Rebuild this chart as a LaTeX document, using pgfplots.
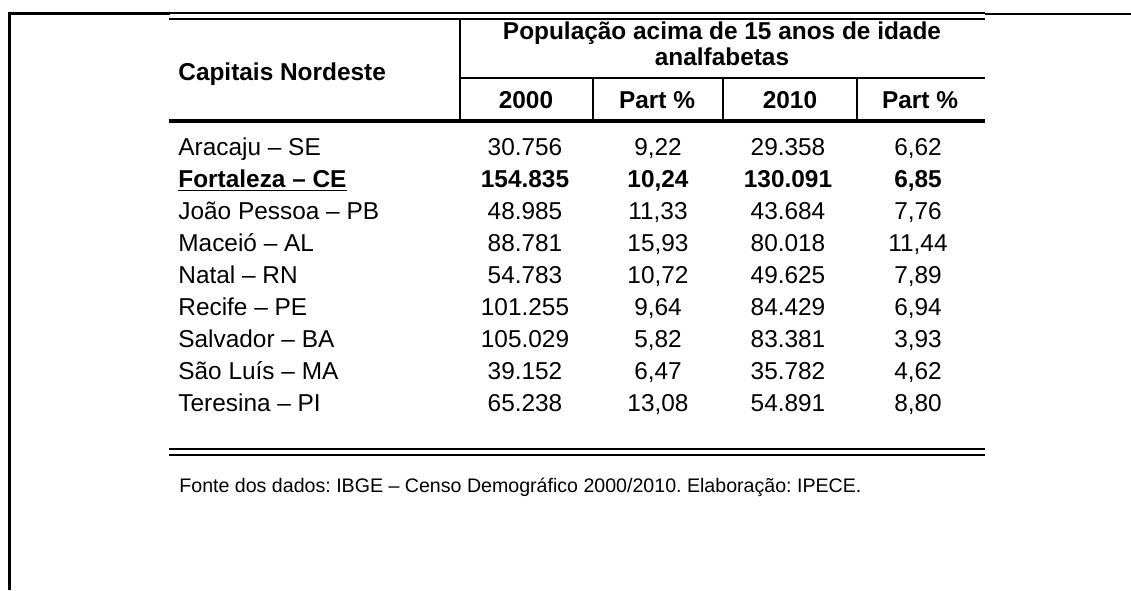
\documentclass[border=0pt]{standalone}
\usepackage{pgfplots}
\usepackage{pgfplotstable}
\pgfplotsset{compat=1.18}
\usepackage{fontspec}
\setmainfont{Liberation Sans}
\frenchspacing

\pgfplotstableread[col sep=semicolon]{
y;name;a;b;c;d
155;Aracaju – SE;30.756;9,22;29.358;6,62
219;João Pessoa – PB;48.985;11,33;43.684;7,76
251;Maceió – AL;88.781;15,93;80.018;11,44
283;Natal – RN;54.783;10,72;49.625;7,89
315;Recife – PE;101.255;9,64;84.429;6,94
347;Salvador – BA;105.029;5,82;83.381;3,93
379;São Luís – MA;39.152;6,47;35.782;4,62
411;Teresina – PI;65.238;13,08;54.891;8,80
}\rows

\pgfplotstableread[col sep=semicolon]{
y;name;a;b;c;d
187;Fortaleza – CE;154.835;10,24;130.091;6,85
}\bold

\newcommand{\bodyfont}{\fontsize{12.2}{14}\selectfont}
\newcommand{\boldfont}{\fontsize{12.2}{14}\selectfont\bfseries}

\begin{document}
\frenchspacing
\begin{tikzpicture}
\begin{axis}[
  scale only axis, width=565.5pt, height=295pt,
  xmin=0, xmax=1131, ymin=0, ymax=590, y dir=reverse,
  hide axis, clip=false,
  every node near coord/.append style={inner sep=0pt, black},
]
\path[use as bounding box] (axis cs:0,0) rectangle (axis cs:1131,590);
% frame
\draw[line width=1.5pt] (axis cs:9,590) -- (axis cs:9,13) -- (axis cs:170,13);
\draw[line width=1pt] (axis cs:985,14.3) -- (axis cs:1131,14.3);
% top double rule
\draw[line width=1pt] (axis cs:169,13) -- (axis cs:985,13);
\draw[line width=1pt] (axis cs:169,19.3) -- (axis cs:985,19.3);
% header rules
\draw[line width=1pt] (axis cs:460,19.3) -- (axis cs:460,121);
\draw[line width=1pt] (axis cs:460,78) -- (axis cs:985,78);
\draw[line width=1pt] (axis cs:593,78) -- (axis cs:593,121);
\draw[line width=1pt] (axis cs:723,78) -- (axis cs:723,121);
\draw[line width=1pt] (axis cs:857,78) -- (axis cs:857,121);
\draw[line width=2pt] (axis cs:169,120.5) -- (axis cs:985,120.5);
% bottom double rule
\draw[line width=1pt] (axis cs:169,449) -- (axis cs:985,449);
\draw[line width=1pt] (axis cs:169,454.5) -- (axis cs:985,454.5);

% header text
\node[anchor=base west, inner sep=0pt, font=\boldfont] at (axis cs:178,80) {Capitais Nordeste};
\node[anchor=base, inner sep=0pt, font=\boldfont] at (axis cs:722,39) {População acima de 15 anos de idade};
\node[anchor=base, inner sep=0pt, font=\boldfont] at (axis cs:722,65) {analfabetas};
\node[anchor=base, inner sep=0pt, font=\boldfont] at (axis cs:526,108) {2000};
\node[anchor=base, inner sep=0pt, font=\boldfont] at (axis cs:657,108) {Part \%};
\node[anchor=base, inner sep=0pt, font=\boldfont] at (axis cs:790,108) {2010};
\node[anchor=base, inner sep=0pt, font=\boldfont] at (axis cs:920,108) {Part \%};

% body rows
\addplot[draw=none, mark=none, nodes near coords, point meta=explicit symbolic,
  nodes near coords style={anchor=base west, font=\bodyfont}]
  table[x expr=178, y=y, meta=name] {\rows};
\addplot[draw=none, mark=none, nodes near coords, point meta=explicit symbolic,
  nodes near coords style={anchor=base, font=\bodyfont}]
  table[x expr=525, y=y, meta=a] {\rows};
\addplot[draw=none, mark=none, nodes near coords, point meta=explicit symbolic,
  nodes near coords style={anchor=base, font=\bodyfont}]
  table[x expr=658, y=y, meta=b] {\rows};
\addplot[draw=none, mark=none, nodes near coords, point meta=explicit symbolic,
  nodes near coords style={anchor=base, font=\bodyfont}]
  table[x expr=788, y=y, meta=c] {\rows};
\addplot[draw=none, mark=none, nodes near coords, point meta=explicit symbolic,
  nodes near coords style={anchor=base, font=\bodyfont}]
  table[x expr=918, y=y, meta=d] {\rows};

% Fortaleza (bold)
\addplot[draw=none, mark=none, nodes near coords={\underline{\pgfplotspointmeta}}, point meta=explicit symbolic,
  nodes near coords style={anchor=base west, font=\boldfont}]
  table[x expr=178, y=y, meta=name] {\bold};
\addplot[draw=none, mark=none, nodes near coords, point meta=explicit symbolic,
  nodes near coords style={anchor=base, font=\boldfont}]
  table[x expr=525, y=y, meta=a] {\bold};
\addplot[draw=none, mark=none, nodes near coords, point meta=explicit symbolic,
  nodes near coords style={anchor=base, font=\boldfont}]
  table[x expr=658, y=y, meta=b] {\bold};
\addplot[draw=none, mark=none, nodes near coords, point meta=explicit symbolic,
  nodes near coords style={anchor=base, font=\boldfont}]
  table[x expr=788, y=y, meta=c] {\bold};
\addplot[draw=none, mark=none, nodes near coords, point meta=explicit symbolic,
  nodes near coords style={anchor=base, font=\boldfont}]
  table[x expr=918, y=y, meta=d] {\bold};

% footer
\node[anchor=base west, inner sep=0pt, font=\fontsize{9.8}{12}\selectfont\frenchspacing] at (axis cs:179,492) {Fonte dos dados: IBGE – Censo Demográfico 2000/2010. Elaboração: IPECE.};
\end{axis}
\end{tikzpicture}
\end{document}
